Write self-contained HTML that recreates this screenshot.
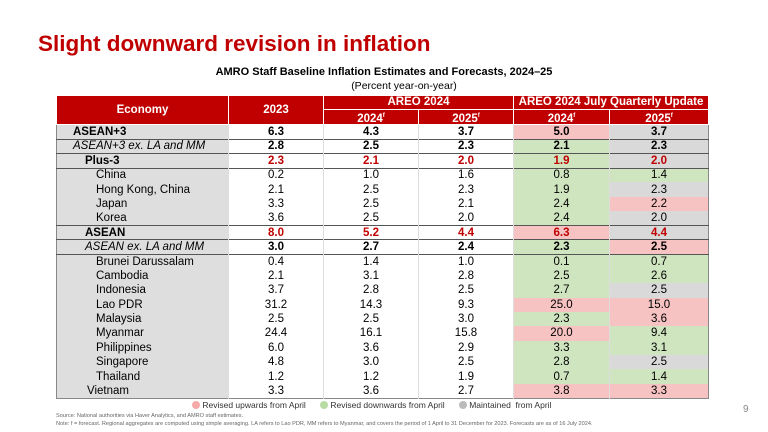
<!DOCTYPE html><html><head><style>
body{margin:0;width:768px;height:432px;background:#fff;font-family:"Liberation Sans",sans-serif;position:relative;overflow:hidden}
.t{position:absolute;white-space:nowrap}
table{position:absolute;left:56px;top:95px;border-collapse:collapse;font-size:11.5px;table-layout:fixed}
td{height:14.2px;padding:0;text-align:center;border-left:1px solid #ddd;line-height:12px;box-sizing:border-box}
tr{height:14.4px}
.h td{background:#c00000;color:#fff;font-weight:bold;font-size:11.5px;border:1px solid #fff;height:13px}
.h{height:13.5px}
td.e{background:#dedede;text-align:left;border-left:none}
.p{background:#f6c2c2}.g{background:#cfe5c0}.y{background:#d9d9d9}
tr.b td{border-top:1px solid #555}
.r{color:#c00000;font-weight:bold}.bd{font-weight:bold}
</style></head><body>
<div class="t" style="left:38px;top:31px;font-size:22.5px;font-weight:bold;color:#c00000">Slight downward revision in inflation</div>
<div class="t" style="left:0;width:768px;text-align:center;top:66px;font-size:11px;font-weight:bold">AMRO Staff Baseline Inflation Estimates and Forecasts, 2024–25</div>
<div class="t" style="left:0;width:768px;text-align:center;top:80px;font-size:10.5px;padding-left:20px">(Percent year-on-year)</div>
<table style="border:1px solid #888">
<colgroup><col style="width:172px"><col style="width:95px"><col style="width:95px"><col style="width:95px"><col style="width:96px"><col style="width:99px"></colgroup>
<tr class="h"><td rowspan="2" style="text-align:center">Economy</td><td rowspan="2">2023</td><td colspan="2">AREO 2024</td><td colspan="2">AREO 2024 July Quarterly Update</td></tr>
<tr class="h"><td>2024<sup style="font-size:6px">f</sup></td><td>2025<sup style="font-size:6px">f</sup></td><td>2024<sup style="font-size:6px">f</sup></td><td>2025<sup style="font-size:6px">f</sup></td></tr>
<tr class="bd"><td class="e" style="padding-left:16px">ASEAN+3</td><td>6.3</td><td>4.3</td><td>3.7</td><td class="p">5.0</td><td class="y">3.7</td></tr>
<tr class="b bd"><td class="e" style="padding-left:16px;font-style:italic;font-weight:normal">ASEAN+3 ex. LA and MM</td><td>2.8</td><td>2.5</td><td>2.3</td><td class="g">2.1</td><td class="y">2.3</td></tr>
<tr class="b"><td class="e bd" style="padding-left:28px">Plus-3</td><td class="r">2.3</td><td class="r">2.1</td><td class="r">2.0</td><td class="g r">1.9</td><td class="y r">2.0</td></tr>
<tr class="b"><td class="e" style="padding-left:39px">China</td><td>0.2</td><td>1.0</td><td>1.6</td><td class="g">0.8</td><td class="g">1.4</td></tr>
<tr><td class="e" style="padding-left:39px">Hong Kong, China</td><td>2.1</td><td>2.5</td><td>2.3</td><td class="g">1.9</td><td class="y">2.3</td></tr>
<tr><td class="e" style="padding-left:39px">Japan</td><td>3.3</td><td>2.5</td><td>2.1</td><td class="g">2.4</td><td class="p">2.2</td></tr>
<tr><td class="e" style="padding-left:39px">Korea</td><td>3.6</td><td>2.5</td><td>2.0</td><td class="g">2.4</td><td class="y">2.0</td></tr>
<tr class="b"><td class="e bd" style="padding-left:28px">ASEAN</td><td class="r">8.0</td><td class="r">5.2</td><td class="r">4.4</td><td class="p r">6.3</td><td class="y r">4.4</td></tr>
<tr class="b bd"><td class="e" style="padding-left:28px;font-style:italic;font-weight:normal">ASEAN ex. LA and MM</td><td>3.0</td><td>2.7</td><td>2.4</td><td class="g">2.3</td><td class="p">2.5</td></tr>
<tr class="b"><td class="e" style="padding-left:39px">Brunei Darussalam</td><td>0.4</td><td>1.4</td><td>1.0</td><td class="g">0.1</td><td class="g">0.7</td></tr>
<tr><td class="e" style="padding-left:39px">Cambodia</td><td>2.1</td><td>3.1</td><td>2.8</td><td class="g">2.5</td><td class="g">2.6</td></tr>
<tr><td class="e" style="padding-left:39px">Indonesia</td><td>3.7</td><td>2.8</td><td>2.5</td><td class="g">2.7</td><td class="y">2.5</td></tr>
<tr><td class="e" style="padding-left:39px">Lao PDR</td><td>31.2</td><td>14.3</td><td>9.3</td><td class="p">25.0</td><td class="p">15.0</td></tr>
<tr><td class="e" style="padding-left:39px">Malaysia</td><td>2.5</td><td>2.5</td><td>3.0</td><td class="g">2.3</td><td class="p">3.6</td></tr>
<tr><td class="e" style="padding-left:39px">Myanmar</td><td>24.4</td><td>16.1</td><td>15.8</td><td class="p">20.0</td><td class="g">9.4</td></tr>
<tr><td class="e" style="padding-left:39px">Philippines</td><td>6.0</td><td>3.6</td><td>2.9</td><td class="g">3.3</td><td class="g">3.1</td></tr>
<tr><td class="e" style="padding-left:39px">Singapore</td><td>4.8</td><td>3.0</td><td>2.5</td><td class="g">2.8</td><td class="y">2.5</td></tr>
<tr><td class="e" style="padding-left:39px">Thailand</td><td>1.2</td><td>1.2</td><td>1.9</td><td class="g">0.7</td><td class="g">1.4</td></tr>
<tr><td class="e" style="padding-left:30px">Vietnam</td><td>3.3</td><td>3.6</td><td>2.7</td><td class="p">3.8</td><td class="p">3.3</td></tr>
</table>
<div class="t" style="left:192px;top:400px;font-size:8.5px;color:#333"><span style="display:inline-block;width:8px;height:8px;border-radius:50%;background:#f5a9a9;vertical-align:-1px"></span> Revised upwards from April&nbsp;&nbsp;&nbsp;&nbsp;&nbsp;&nbsp;<span style="display:inline-block;width:8px;height:8px;border-radius:50%;background:#b9dca4;vertical-align:-1px"></span> Revised downwards from April&nbsp;&nbsp;&nbsp;&nbsp;&nbsp;&nbsp;<span style="display:inline-block;width:8px;height:8px;border-radius:50%;background:#bbb;vertical-align:-1px"></span> Maintained&nbsp; from April</div>
<div class="t" style="left:56px;top:413px;font-size:5.6px;color:#666">Source: National authorities via Haver Analytics, and AMRO staff estimates.</div>
<div class="t" style="left:56px;top:421px;font-size:5.6px;color:#666">Note: f = forecast. Regional aggregates are computed using simple averaging. LA refers to Lao PDR, MM refers to Myanmar, and covers the period of 1 April to 31 December for 2023. Forecasts are as of 16 July 2024.</div>
<div class="t" style="left:743px;top:404px;font-size:10px;color:#888">9</div>
</body></html>
